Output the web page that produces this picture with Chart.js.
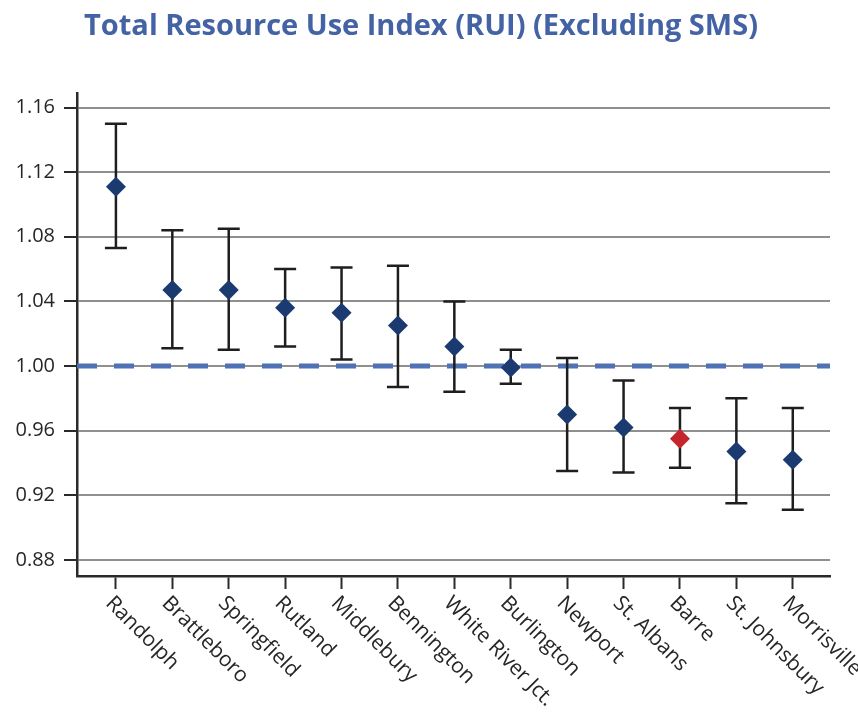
<!DOCTYPE html>
<html>
<head>
<meta charset="utf-8">
<script src="https://cdn.jsdelivr.net/npm/chart.js@4.4.0/dist/chart.umd.min.js"></script>
<style>
  html, body { margin: 0; padding: 0; background: #fff; }
</style>
</head>
<body>
<canvas id="ruiChart" width="858" height="714"></canvas>
<script>
const categories = ['Randolph', 'Brattleboro', 'Springfield', 'Rutland', 'Middlebury', 'Bennington',
  'White River Jct.', 'Burlington', 'Newport', 'St. Albans', 'Barre', 'St. Johnsbury', 'Morrisville'];
const rui =   [1.111, 1.047, 1.047, 1.036, 1.033, 1.025, 1.012, 0.999, 0.970, 0.962, 0.955, 0.947, 0.942];
const upper = [1.150, 1.084, 1.085, 1.060, 1.061, 1.062, 1.040, 1.010, 1.005, 0.991, 0.974, 0.980, 0.974];
const lower = [1.073, 1.011, 1.010, 1.012, 1.004, 0.987, 0.984, 0.989, 0.935, 0.934, 0.937, 0.915, 0.911];
const yTicks = [0.88, 0.92, 0.96, 1.00, 1.04, 1.08, 1.12, 1.16];
const reference = 1.00;
const highlight = 'Barre';

const FONT = '"Open Sans", "DejaVu Sans", sans-serif';
const xMin = -0.69, xMax = 12.66;

// whiskers, drawn after the dashed line and before the diamonds
const errorBars = {
  id: 'errorBars',
  afterDatasetDraw(chart, args) {
    if (args.index !== 1) return;
    const { ctx, scales: { x, y } } = chart;
    ctx.save();
    ctx.strokeStyle = '#1e1e1e';
    ctx.lineWidth = 2.5;
    categories.forEach((c, i) => {
      const px = x.getPixelForValue(i);
      const top = y.getPixelForValue(upper[i]);
      const bot = y.getPixelForValue(lower[i]);
      ctx.beginPath();
      ctx.moveTo(px, top); ctx.lineTo(px, bot);
      ctx.moveTo(px - 11, top); ctx.lineTo(px + 11, top);
      ctx.moveTo(px - 11, bot); ctx.lineTo(px + 11, bot);
      ctx.stroke();
    });
    ctx.restore();
  }
};

// slanted category labels reading down to the right
const slantLabels = {
  id: 'slantLabels',
  afterDraw(chart) {
    const { ctx, scales: { x } } = chart;
    ctx.save();
    ctx.font = '21px ' + FONT;
    ctx.fillStyle = '#262626';
    ctx.textAlign = 'left';
    ctx.textBaseline = 'middle';
    categories.forEach((c, i) => {
      ctx.save();
      ctx.translate(x.getPixelForValue(i) - 7, x.bottom + 11);
      ctx.rotate(Math.PI / 4);
      ctx.fillText(c, 0, 0);
      ctx.restore();
    });
    ctx.restore();
  }
};

new Chart(document.getElementById('ruiChart'), {
  type: 'scatter',
  data: {
    datasets: [
      {
        label: 'RUI',
        data: categories.map((c, i) => ({ x: i, y: rui[i] })),
        pointStyle: 'rectRot',
        pointRadius: 10,
        pointHoverRadius: 10,
        backgroundColor: categories.map(c => c === highlight ? '#c4262b' : '#1b3a70'),
        borderColor: categories.map(c => c === highlight ? '#c4262b' : '#1b3a70'),
        borderWidth: 0
      },
      {
        type: 'line',
        label: 'Reference',
        data: [{ x: xMin, y: reference }, { x: xMax, y: reference }],
        borderColor: '#4f72b4',
        borderWidth: 5,
        borderDash: [20, 17],
        pointRadius: 0,
        fill: false
      }
    ]
  },
  options: {
    responsive: false,
    animation: false,
    devicePixelRatio: 1,
    layout: { padding: { left: 12, right: 28, top: 0, bottom: 125 } },
    plugins: {
      legend: { display: false },
      tooltip: { enabled: false },
      title: {
        display: true,
        text: 'Total Resource Use Index (RUI) (Excluding SMS)',
        color: '#4463a5',
        font: { family: FONT, size: 29, weight: 'bold' },
        padding: { top: 9.6, bottom: 48.6 }
      }
    },
    scales: {
      x: {
        type: 'linear',
        min: xMin,
        max: xMax,
        afterBuildTicks: s => { s.ticks = categories.map((c, i) => ({ value: i })); },
        ticks: { display: false },
        grid: { drawOnChartArea: false, drawTicks: true, tickLength: 13, tickColor: '#2a2a2a', tickWidth: 2 },
        border: { color: '#2a2a2a', width: 2.5 }
      },
      y: {
        min: 0.87,
        max: 1.169,
        afterBuildTicks: s => { s.ticks = yTicks.map(v => ({ value: v })); },
        afterFit: s => { s.width = 65; },
        ticks: {
          callback: v => v.toFixed(2),
          color: '#262626',
          padding: 9,
          font: { family: FONT, size: 20 }
        },
        grid: { color: '#8f8f8f', lineWidth: 2, tickLength: 13, tickColor: '#2a2a2a', tickWidth: 2 },
        border: { color: '#2a2a2a', width: 2.5 }
      }
    }
  },
  plugins: [errorBars, slantLabels]
});
</script>
</body>
</html>
